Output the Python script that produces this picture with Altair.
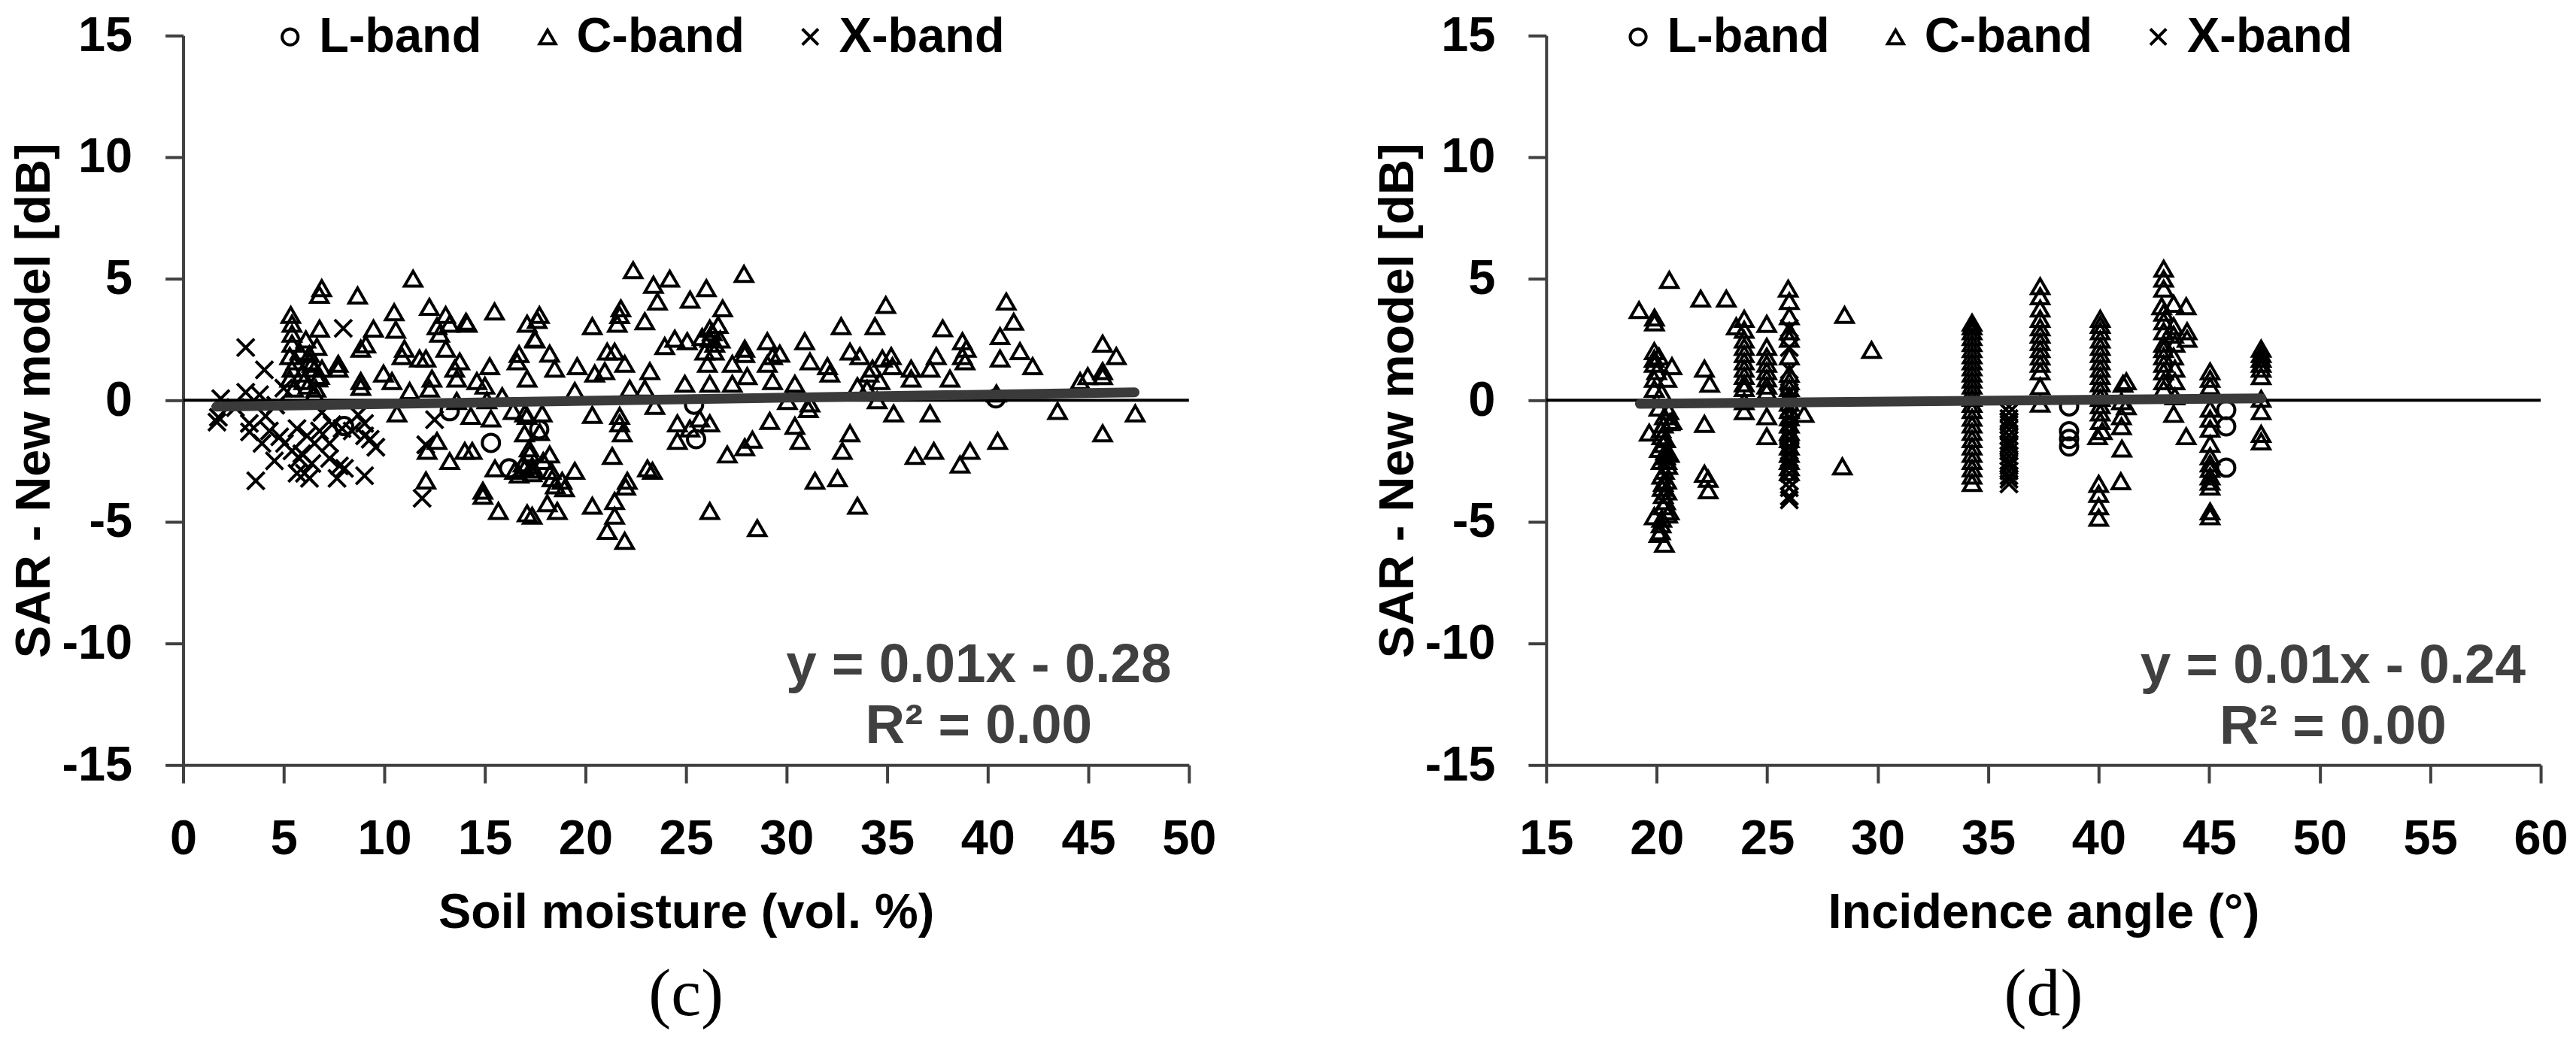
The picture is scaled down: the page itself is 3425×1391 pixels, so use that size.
import altair as alt
import pandas as pd

FONT = "Liberation Sans"
SERIF = "Liberation Serif"
AXIS_GRAY = "#404040"
TREND_GRAY = "#3a3a3a"

BANDS = ["L-band", "C-band", "X-band"]
SHAPES = ["circle", "triangle-up", "M-1,-1L1,1M1,-1L-1,1"]

Y_TICKS = [-15, -10, -5, 0, 5, 10, 15]
SM_TICKS = [0, 5, 10, 15, 20, 25, 30, 35, 40, 45, 50]
ANG_TICKS = [15, 20, 25, 30, 35, 40, 45, 50, 55, 60]
Y_TITLE = "SAR - New model [dB]"

# ---------------- panel (c): soil moisture ----------------
SM_L = [(8.0, -1.06), (13.25, -0.45), (15.3, -1.75), (16.2, -2.8), (17.7, -1.2),
        (25.5, -1.6), (25.4, -0.18), (40.4, 0.08)]

SM_C = [
    (5.41, 3.15), (5.41, 2.74), (5.41, 2.33), (5.3, 1.82), (5.41, 1.30), (5.3, 0.89), (5.5, 0.48),
    (6.28, 1.6), (6.53, 1.3), (6.78, 1.0), (6.0, 0.79), (6.6, 0.48), (5.8, 2.0), (6.28, 1.9),
    (6.9, 1.3), (6.53, 0.28), (6.78, 2.95), (6.65, 2.2), (7.71, 1.5), (7.71, 1.3), (8.83, 2.12),
    (9.08, 2.3), (8.83, 0.79), (8.83, 0.55), (9.46, 2.95), (9.96, 1.1), (10.38, 0.79), (10.57, 2.9),
    (11.0, 2.12), (10.88, 1.82), (11.26, 0.38), (11.75, 1.72), (12.07, 1.72), (12.37, 0.89),
    (12.25, 0.48), (12.62, 3.05), (12.75, 2.74), (13.06, 2.12), (13.25, 3.15), (13.5, 1.3),
    (13.6, 0.89), (13.75, 1.6), (14.12, 3.15), (14.6, 0.79), (15.24, 1.4), (15.86, 0.17),
    (16.6, 1.6), (16.7, 1.9), (17.1, 0.89), (17.5, 2.5), (17.1, 3.15), (15.1, 0.0), (13.6, -0.03),
    (5.9, 1.1), (6.2, 0.6), (6.4, 1.5), (6.1, 2.5), (5.6, 1.6), (6.7, 0.9), (15.0, 0.6),
    (10.63, -0.54), (12.62, -1.67), (12.13, -2.08), (13.25, -2.5), (14.0, -2.08), (14.37, -2.08),
    (14.3, -0.64), (15.3, -0.75), (15.5, -2.8), (14.9, -3.72), (14.9, -3.93), (15.67, -4.55),
    (12.07, -3.3), (16.4, -0.44), (17.1, -0.64), (16.97, -1.36), (17.2, -1.98), (16.48, -2.9),
    (16.97, -2.8), (17.35, -2.7), (17.35, -3.0), (17.1, -4.65), (17.35, -4.75), (16.7, -3.05),
    (16.9, -2.6),
    (20.34, 3.05), (21.58, 3.15), (22.95, 3.25), (26.18, 2.95), (26.18, 2.53), (26.43, 2.33),
    (25.93, 2.0), (26.06, 1.5), (27.3, 1.5), (27.92, 2.12), (27.92, 1.9), (29.04, 2.43),
    (29.3, 1.82), (29.66, 1.92), (29.04, 1.5), (29.3, 0.79), (30.9, 2.43), (31.16, 1.6),
    (32.03, 1.4), (32.15, 1.1), (32.71, 3.05), (33.15, 2.0), (33.64, 1.82), (34.27, 1.3),
    (34.39, 3.05), (33.52, 0.58), (34.1, 1.1), (17.47, 2.53), (18.22, 1.92), (18.47, 1.3),
    (19.59, 1.4), (20.46, 1.1), (20.96, 1.2), (21.08, 2.0), (21.45, 2.0), (21.95, 1.5),
    (23.2, 1.2), (23.94, 2.23), (24.44, 2.53), (25.06, 2.43), (24.94, 0.68), (26.18, 0.68),
    (27.3, 0.68), (19.47, 0.38), (22.2, 0.48), (22.95, 0.48), (28.04, 0.99), (30.41, 0.68),
    (26.3, 2.8), (26.6, 3.1), (26.4, 2.0), (25.8, 2.6), (26.7, 2.5),
    (16.98, -0.54), (17.85, -0.54), (20.34, -0.6), (21.7, -0.64), (21.7, -0.95), (21.83, -1.36),
    (17.72, -1.31), (18.22, -2.23), (17.23, -2.18), (17.4, -2.85), (19.47, -2.9), (18.34, -3.21),
    (18.84, -3.31), (18.96, -3.62), (18.6, -4.55), (18.1, -4.24), (20.34, -4.34),
    (21.33, -2.29), (21.45, -4.14), (21.45, -4.75), (21.08, -5.37), (21.95, -5.78), (22.08, -3.31),
    (23.08, -2.8), (23.33, -2.9), (23.45, -0.23), (24.57, -0.95), (24.57, -1.67), (25.19, -1.16),
    (26.18, -0.95), (25.68, -0.75), (27.05, -2.23), (27.92, -1.93), (28.3, -1.62), (26.18, -4.55),
    (28.54, -5.26), (29.16, -0.85), (30.41, -1.05), (30.66, -1.67), (30.04, -0.03), (31.16, -0.13),
    (31.41, -3.31), (32.53, -3.21), (32.77, -2.08), (33.15, -1.36), (33.52, -4.34), (18.3, -2.9),
    (17.9, -2.5), (18.5, -3.5), (22.0, -3.55),
    (5.35, 3.51), (6.89, 4.61), (6.77, 4.34), (8.67, 4.31), (11.43, 5.0), (10.49, 3.62),
    (12.24, 3.84), (13.05, 3.51), (14.06, 3.23), (15.48, 3.65), (17.71, 3.51), (17.6, 3.3),
    (21.76, 3.78), (21.7, 3.5), (22.37, 5.35), (23.38, 4.75), (23.58, 4.06), (24.19, 5.0),
    (25.2, 4.14), (26.01, 4.61), (26.82, 3.78), (27.88, 5.2), (34.93, 3.92), (37.76, 2.96),
    (40.92, 4.06), (41.29, 3.23),
    (35.2, 1.82), (34.76, 1.72), (35.26, 1.4), (34.64, 0.79), (36.19, 1.3), (36.19, 0.89),
    (37.44, 1.82), (37.13, 1.3), (38.12, 0.89), (38.74, 2.43), (38.93, 2.12), (38.74, 1.82),
    (38.87, 1.6), (40.61, 2.64), (40.61, 1.72), (41.6, 2.02), (42.23, 1.4), (45.71, 2.33),
    (46.39, 1.82), (44.97, 0.99), (45.71, 0.99), (44.59, 0.79), (45.71, 1.2), (40.43, 0.28),
    (35.32, -0.54), (37.13, -0.54), (43.47, -0.44), (47.33, -0.54), (45.71, -1.36), (36.38, -2.29),
    (37.32, -2.08), (39.12, -2.08), (38.62, -2.64), (40.49, -1.67), (34.5, 0.0), (31.08, -0.36),
    (34.0, 0.47),
]

SM_X = [
    (3.11, 2.17), (7.96, 2.96), (4.04, 1.25), (1.87, 0.07), (3.11, 0.33), (3.8, 0.23), (1.68, -0.9),
    (1.75, -0.7), (3.29, -0.95), (4.1, -0.65), (4.29, -1.26), (3.92, -1.77), (4.54, -2.49),
    (3.61, -3.31), (5.66, -1.16), (5.04, -1.77), (5.41, -2.08), (5.78, -2.39), (6.03, -3.0),
    (6.28, -3.21), (5.66, -3.0), (6.78, -1.26), (7.28, -1.77), (7.28, -2.39), (7.77, -2.7),
    (7.65, -3.21), (8.02, -2.8), (9.02, -3.1), (9.02, -0.95), (9.02, -1.46), (9.58, -1.93),
    (8.4, -1.26), (7.9, -1.16), (6.53, -1.77), (6.16, -1.46), (12.5, -0.8), (12.06, -1.83),
    (11.88, -4.03), (5.0, 0.5), (4.6, -0.2), (6.9, -0.5), (7.4, -1.0), (8.7, -0.6), (6.4, -2.6),
    (5.9, -2.2), (4.8, -1.5), (2.6, -0.3), (9.3, -1.6), (3.3, -1.3),
]

SM_TREND = [(1.65, -0.26), (47.3, 0.33)]
SM_EQ_TEXT = ["y = 0.01x - 0.28", "R² = 0.00"]
SM_EQ_X = [39.55, 39.55]
SM_EQ_Y = [-10.9, -13.4]

# ---------------- panel (d): incidence angle ----------------
ANG_L = [(38.66, -0.25), (38.66, -1.27), (38.66, -1.59), (38.66, -1.9), (45.77, -0.4),
         (45.77, -1.07), (45.77, -2.77), (26.0, -1.75)]

ANG_C = [
    (19.2, 3.71), (19.9, 3.4), (19.9, 3.2), (19.89, 2.02), (19.89, 1.71), (19.89, 1.5),
    (19.89, 0.88), (19.89, 0.47), (19.66, -1.33), (19.89, -4.77),
    (20.57, 4.95), (20.69, 1.4), (20.46, 0.88), (20.23, 0.32), (20.35, -0.66), (20.69, -0.86),
    (20.23, -1.48), (20.12, -2.0), (20.57, -2.2), (20.46, -2.5), (20.35, -2.9), (20.23, -3.1),
    (20.46, -3.75), (20.4, -4.15), (20.23, -4.87), (20.17, -5.39), (20.35, -5.9), (20.57, -4.57),
    (20.3, -4.36), (20.1, -5.5), (20.1, 1.8), (20.0, 1.2), (20.2, -1.2), (20.3, -1.8),
    (20.4, -2.3), (20.5, -2.7), (20.3, -3.4), (20.6, -0.9), (20.1, -0.3),
    (20.3, -1.0), (20.4, -1.6), (20.2, -2.5), (20.45, -3.3), (20.3, -3.9), (20.5, -4.7),
    (20.2, -5.1), (20.4, -2.1), (20.55, -0.45), (20.25, -3.6),
    (21.99, 4.18), (22.16, 1.3), (22.4, 0.68), (22.16, -0.97), (22.16, -3.02), (22.33, -3.23),
    (22.33, -3.7), (23.15, 4.18),
    (23.96, 3.35), (23.6, 3.04), (23.96, 2.9), (23.96, 2.5), (23.96, 2.2), (23.96, 1.9),
    (23.96, 1.6), (23.96, 1.3), (23.96, 1.0), (23.96, 0.7), (23.96, 0.5), (23.96, -0.45),
    (23.96, -0.04),
    (24.98, 3.14), (24.98, 2.2), (24.98, 1.8), (24.98, 1.5), (24.98, 1.2), (24.98, 0.9),
    (24.98, 0.6), (24.98, 0.37), (24.98, -0.66), (24.98, -1.48),
    (25.95, 4.59), (26.0, 4.08), (26.0, 3.46), (26.0, 2.84), (26.0, 2.53), (26.0, 1.81),
    (26.0, 1.09), (26.0, 0.78), (26.0, 0.5), (26.0, 0.2), (26.0, -0.1), (26.0, -0.4),
    (26.0, -0.7), (26.0, -1.0), (26.0, -1.3), (26.0, -1.6), (26.0, -1.9), (26.0, -2.2),
    (26.0, -2.5), (26.0, -2.75), (26.0, -2.95),
    (26.67, -0.56), (28.5, 3.51), (29.72, 2.07), (28.4, -2.72),
    (34.27, 3.19), (34.27, 3.04), (34.27, 2.84), (34.27, 2.6), (34.27, 2.35), (34.27, 2.1),
    (34.27, 1.85), (34.27, 1.6), (34.27, 1.35), (34.27, 1.1), (34.27, 0.85), (34.27, 0.6),
    (34.27, 0.35), (34.27, 0.1), (34.27, -0.15), (34.27, -0.4), (34.27, -0.72), (34.27, -1.0),
    (34.27, -1.3), (34.27, -1.6), (34.27, -1.9), (34.27, -2.2), (34.27, -2.5), (34.27, -2.8),
    (34.27, -3.1), (34.27, -3.4),
    (37.35, 4.69), (37.35, 4.28), (37.35, 3.77), (37.35, 3.35), (37.35, 3.0), (37.35, 2.7),
    (37.35, 2.4), (37.35, 2.1), (37.35, 1.8), (37.35, 1.5), (37.35, 1.19), (37.35, 0.58),
    (37.35, -0.14),
    (40.07, 3.35), (40.07, 3.1), (40.07, 2.84), (40.07, 2.5), (40.07, 2.2), (40.07, 1.9),
    (40.07, 1.6), (40.07, 1.3), (40.07, 1.0), (40.07, 0.7), (40.07, 0.4), (40.07, 0.1),
    (40.07, -0.2), (40.07, -0.5), (40.07, -0.86), (39.95, -1.48), (40.0, -3.44), (40.0, -3.85),
    (40.0, -4.36), (40.0, -4.83), (40.16, -1.27),
    (41.1, 0.68), (41.03, -0.04), (41.03, -0.66), (41.03, -1.07), (41.05, -1.99), (41.0, -3.33),
    (41.25, 0.78), (41.25, -0.25),
    (42.94, 5.41), (42.94, 5.0), (42.94, 4.59), (42.85, 3.87), (42.94, 3.25), (42.94, 2.84),
    (42.94, 2.33), (42.94, 1.81), (42.94, 1.19), (42.94, 0.78), (42.94, 0.47), (42.94, 3.6),
    (42.94, 2.1), (42.94, 1.5),
    (43.39, 3.97), (43.39, 3.05), (43.45, 2.33), (43.45, 1.3), (43.45, 0.78), (43.45, 0.16),
    (43.39, -0.56), (43.39, 2.7), (43.39, 1.8),
    (43.96, 3.87), (44.0, 2.84), (44.0, 2.53), (43.96, -1.48),
    (45.04, 1.19), (45.04, 0.88), (45.04, 0.58), (45.04, -0.35), (45.04, -0.76), (45.04, -1.17),
    (45.04, -1.79), (45.04, -2.3), (45.04, -2.82), (45.04, -3.13), (45.04, -3.55), (45.04, -4.57),
    (45.04, -4.77), (45.04, -2.6), (45.04, -3.35),
    (47.35, 2.12), (47.35, 1.71), (47.35, 1.3), (47.35, 0.99), (47.35, 0.06), (47.35, -0.45),
    (47.35, -1.38), (47.35, -1.69), (47.35, 1.9), (47.35, 1.5),
]

ANG_X = [
    (35.94, -0.25), (35.94, -0.5), (35.94, -0.75), (35.94, -1.0), (35.94, -1.2), (35.94, -1.45),
    (35.94, -1.65), (35.94, -1.9), (35.94, -2.1), (35.94, -2.3), (35.94, -2.5), (35.94, -2.7),
    (35.94, -2.9), (35.94, -3.1), (35.94, -3.25), (35.94, -3.44), (35.94, -0.9), (35.94, -1.8),
    (35.94, -2.6),
    (26.0, 2.96), (26.0, 2.17), (26.0, 1.25), (26.0, 0.33), (26.0, 0.07), (26.0, -0.3),
    (26.0, -0.7), (26.0, -0.95), (26.0, -1.3), (26.0, -1.6), (26.0, -1.9), (26.0, -2.2),
    (26.0, -2.5), (26.0, -2.7), (26.0, -3.0), (26.0, -3.33), (26.0, -3.6), (26.0, -3.95),
    (26.0, -4.1),
]

ANG_TREND = [(19.24, -0.145), (47.37, 0.08)]
ANG_EQ_TEXT = ["y = 0.01x - 0.24", "R² = 0.00"]
ANG_EQ_X = [50.6, 50.6]
ANG_EQ_Y = [-10.95, -13.45]


def panel(L, C, X, trend, eq_text, eq_x, eq_y, xdom, xticks, xtitle, caption, width, legend_x):
    rows = ([(x, y, "L-band") for x, y in L] + [(x, y, "C-band") for x, y in C]
            + [(x, y, "X-band") for x, y in X])
    pts = pd.DataFrame(rows, columns=["x", "y", "band"])
    trend_df = pd.DataFrame(trend, columns=["x", "y"])
    eq_df = pd.DataFrame({"x": eq_x, "y": eq_y, "t": eq_text})
    zero_df = pd.DataFrame({"y": [0]})

    common_axis = dict(
        labelFont=FONT, labelFontSize=65, labelFontWeight="bold", labelColor="black",
        titleFont=FONT, titleFontSize=65, titleFontWeight="bold", titleColor="black",
        tickColor=AXIS_GRAY, tickWidth=4, tickSize=24, domainColor=AXIS_GRAY, domainWidth=4,
        grid=False, labelOverlap=False, labelExpr="toString(datum.value)",
    )
    xenc = alt.X("x:Q", scale=alt.Scale(domain=xdom, nice=False, zero=False),
                 axis=alt.Axis(values=xticks, title=xtitle, labelPadding=43, titlePadding=35,
                               labelFlush=False, **common_axis))
    yenc = alt.Y("y:Q", scale=alt.Scale(domain=[-15, 15], nice=False),
                 axis=alt.Axis(values=Y_TICKS, title=Y_TITLE, labelPadding=44, titlePadding=2,
                               **common_axis))

    zero = alt.Chart(zero_df).mark_rule(color="black", strokeWidth=4).encode(y=yenc)
    points = alt.Chart(pts).mark_point(filled=False, color="black", strokeWidth=4, size=530,
                                       opacity=1).encode(
        x=xenc, y=yenc,
        shape=alt.Shape("band:N", scale=alt.Scale(domain=BANDS, range=SHAPES),
                        legend=alt.Legend(orient="none", legendX=legend_x, legendY=-31,
                                          direction="horizontal", title=None, padding=0,
                                          labelFont=FONT, labelFontSize=65,
                                          labelFontWeight="bold", labelColor="black",
                                          labelLimit=0,
                                          symbolSize=450, symbolStrokeWidth=4,
                                          symbolStrokeColor="black", labelOffset=6,
                                          columnPadding=55)),
    )
    line = alt.Chart(trend_df).mark_line(color=TREND_GRAY, strokeWidth=13,
                                         strokeCap="round").encode(x=xenc, y=yenc)
    text = alt.Chart(eq_df).mark_text(font=FONT, fontSize=73, fontWeight="bold",
                                      color=AXIS_GRAY, align="center",
                                      baseline="middle").encode(x=xenc, y=yenc, text="t:N")
    return alt.layer(zero, points, line, text).properties(
        width=width, height=972,
        title=alt.TitleParams(caption, orient="bottom", anchor="middle", font=SERIF,
                              fontSize=90, fontWeight="normal", color="black", offset=32),
    )


left = panel(SM_L, SM_C, SM_X, SM_TREND, SM_EQ_TEXT, SM_EQ_X, SM_EQ_Y, [0, 50], SM_TICKS,
             "Soil moisture (vol. %)", "(c)", 1340, 110)
right = panel(ANG_L, ANG_C, ANG_X, ANG_TREND, ANG_EQ_TEXT, ANG_EQ_X, ANG_EQ_Y, [15, 60],
              ANG_TICKS, "Incidence angle (°)", "(d)", 1325, 90)

chart = alt.hconcat(left, right, spacing=209).resolve_scale(
    shape="independent").resolve_legend(shape="independent").configure_view(
    stroke=None).properties(padding={"left": 6, "top": 6, "right": 2, "bottom": 2},
                            background="white")

chart.save("out.html", embed_options={"renderer": "svg", "actions": False})
